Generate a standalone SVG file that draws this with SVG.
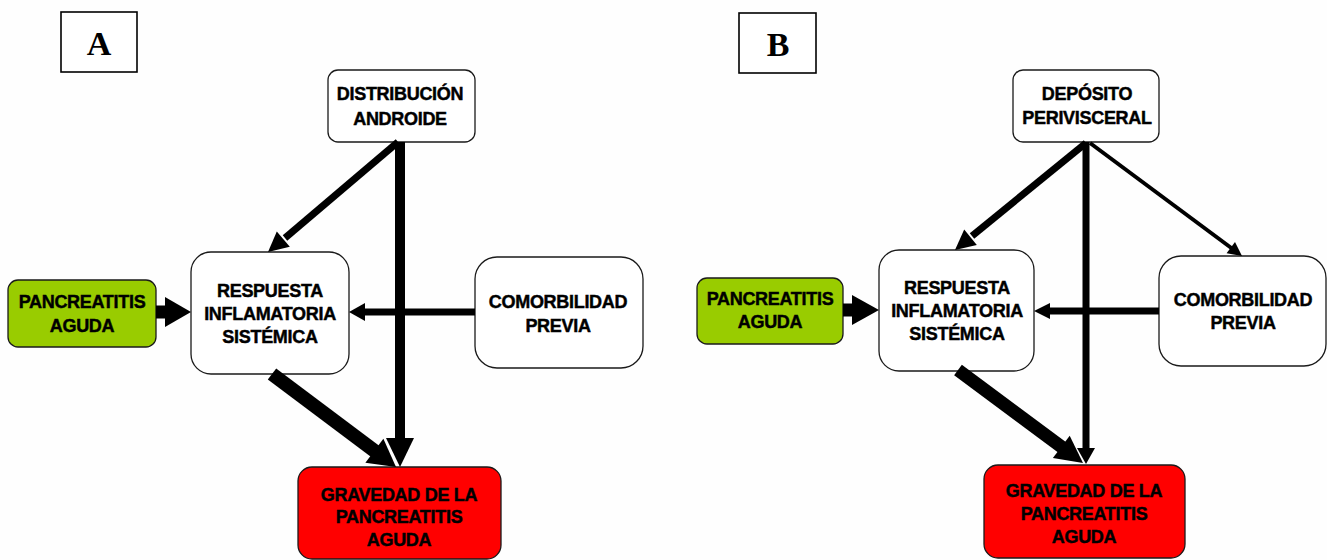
<svg xmlns="http://www.w3.org/2000/svg" width="1327" height="560" viewBox="0 0 1327 560">
  <style>
    .node { fill: #ffffff; stroke: #1a1a1a; stroke-width: 1.3; }
    .green { fill: #99cc00; }
    .red { fill: #ff0000; }
    .tag { fill: #ffffff; stroke: #000000; stroke-width: 1.6; }
    .tagtxt { font-family: "Liberation Serif", "Times New Roman", serif; font-weight: bold; font-size: 34px; fill: #000; text-anchor: middle; }
    .lbl { font-family: "Liberation Sans", Arial, sans-serif; font-weight: bold; font-size: 18px; fill: #000; stroke: #000; stroke-width: 0.45; text-anchor: middle; letter-spacing: -0.3px; }
    .shaft { stroke: #000; stroke-linecap: butt; fill: none; }
    .head { fill: #000; stroke: none; }
  </style>
  <rect x="0" y="0" width="1327" height="560" fill="#fefefe"/>

  <!-- ===== Panel A ===== -->
  <g id="tag-a">
    <rect class="tag" x="61" y="12" width="76" height="60"/>
    <text class="tagtxt" x="99" y="55">A</text>
  </g>
  <g id="a-distribucion">
    <rect class="node" x="328" y="70" width="147" height="72" rx="10"/>
    <text class="lbl" x="400" y="100">DISTRIBUCIÓN</text>
    <text class="lbl" x="400" y="125">ANDROIDE</text>
  </g>
  <g id="a-respuesta">
    <rect class="node" x="191" y="252" width="158" height="122" rx="20"/>
    <text class="lbl" x="270" y="297">RESPUESTA</text>
    <text class="lbl" x="270" y="320">INFLAMATORIA</text>
    <text class="lbl" x="270" y="343">SISTÉMICA</text>
  </g>
  <g id="a-pancreatitis">
    <rect class="node green" x="8" y="280" width="148" height="67" rx="10"/>
    <text class="lbl" x="82" y="308">PANCREATITIS</text>
    <text class="lbl" x="82" y="332">AGUDA</text>
  </g>
  <g id="a-comorbilidad">
    <rect class="node" x="475" y="257" width="168" height="111" rx="22"/>
    <text class="lbl" x="558" y="308">COMORBILIDAD</text>
    <text class="lbl" x="558" y="332">PREVIA</text>
  </g>
  <g id="a-gravedad">
    <rect class="node red" x="298" y="467" width="203" height="92" rx="14"/>
    <text class="lbl" x="399" y="501">GRAVEDAD DE LA</text>
    <text class="lbl" x="399" y="523">PANCREATITIS</text>
    <text class="lbl" x="399" y="546">AGUDA</text>
  </g>

  <!-- ===== Panel B ===== -->
  <g id="tag-b">
    <rect class="tag" x="739" y="13" width="77" height="60"/>
    <text class="tagtxt" x="778" y="56">B</text>
  </g>
  <g id="b-deposito">
    <rect class="node" x="1013" y="70" width="146" height="72" rx="10"/>
    <text class="lbl" x="1087" y="100">DEPÓSITO</text>
    <text class="lbl" x="1087" y="124">PERIVISCERAL</text>
  </g>
  <g id="b-respuesta">
    <rect class="node" x="879" y="250" width="155" height="121" rx="20"/>
    <text class="lbl" x="957" y="294">RESPUESTA</text>
    <text class="lbl" x="957" y="317">INFLAMATORIA</text>
    <text class="lbl" x="957" y="340">SISTÉMICA</text>
  </g>
  <g id="b-pancreatitis">
    <rect class="node green" x="697" y="278" width="146" height="66" rx="10"/>
    <text class="lbl" x="770" y="305">PANCREATITIS</text>
    <text class="lbl" x="770" y="328">AGUDA</text>
  </g>
  <g id="b-comorbilidad">
    <rect class="node" x="1159" y="256" width="167" height="110" rx="22"/>
    <text class="lbl" x="1243" y="306">COMORBILIDAD</text>
    <text class="lbl" x="1243" y="329">PREVIA</text>
  </g>
  <g id="b-gravedad">
    <rect class="node red" x="984" y="465" width="201" height="93" rx="14"/>
    <text class="lbl" x="1084" y="497">GRAVEDAD DE LA</text>
    <text class="lbl" x="1084" y="520">PANCREATITIS</text>
    <text class="lbl" x="1084" y="543">AGUDA</text>
  </g>

  <!-- ===== Connectors ===== -->
  <g id="connectors">
    <!-- A: pancreatitis -> respuesta -->
    <line class="shaft" x1="156" y1="312" x2="167" y2="312" stroke-width="13"/>
    <polygon class="head" points="165,297 191,312 165,327"/>
    <!-- A: comorbilidad -> respuesta -->
    <line class="shaft" x1="475" y1="312" x2="363" y2="312" stroke-width="7"/>
    <polygon class="head" points="365,303 349,312 365,321"/>
    <!-- A: distribucion -> respuesta -->
    <line class="shaft" x1="398" y1="142" x2="285" y2="238" stroke-width="7"/>
    <polygon class="head" points="276.8,231.5 268,252 289.8,246.7"/>
    <!-- A: distribucion -> gravedad -->
    <line class="shaft" x1="400" y1="142" x2="400" y2="440" stroke-width="10"/>
    <polygon class="head" points="386,438 414,438 400,467"/>
    <!-- A: respuesta -> gravedad -->
    <line class="shaft" x1="272" y1="374" x2="376" y2="452" stroke-width="14"/>
    <polygon class="head" points="365.4,462.8 396,467 383.4,438.8"/>

    <!-- B: pancreatitis -> respuesta -->
    <line class="shaft" x1="843" y1="310" x2="854" y2="310" stroke-width="13"/>
    <polygon class="head" points="852,295 879,310 852,325"/>
    <!-- B: comorbilidad -> respuesta -->
    <line class="shaft" x1="1159" y1="311" x2="1048" y2="311" stroke-width="7"/>
    <polygon class="head" points="1050,303 1034,311 1050,319"/>
    <!-- B: deposito -> respuesta -->
    <line class="shaft" x1="1086" y1="143" x2="972" y2="236" stroke-width="7"/>
    <polygon class="head" points="964.2,229.6 955,250 976.8,245"/>
    <!-- B: deposito -> gravedad -->
    <line class="shaft" x1="1086" y1="142" x2="1086" y2="450" stroke-width="7"/>
    <polygon class="head" points="1077,448 1095,448 1086,464"/>
    <!-- B: deposito -> comorbilidad -->
    <line class="shaft" x1="1090" y1="143" x2="1232" y2="248.5" stroke-width="4"/>
    <polygon class="head" points="1226.6,253.2 1242,256 1235,242"/>
    <!-- B: respuesta -> gravedad -->
    <line class="shaft" x1="958" y1="370" x2="1063" y2="448" stroke-width="13"/>
    <polygon class="head" points="1052.9,458.1 1083,463 1069.7,435.7"/>
  </g>
</svg>
